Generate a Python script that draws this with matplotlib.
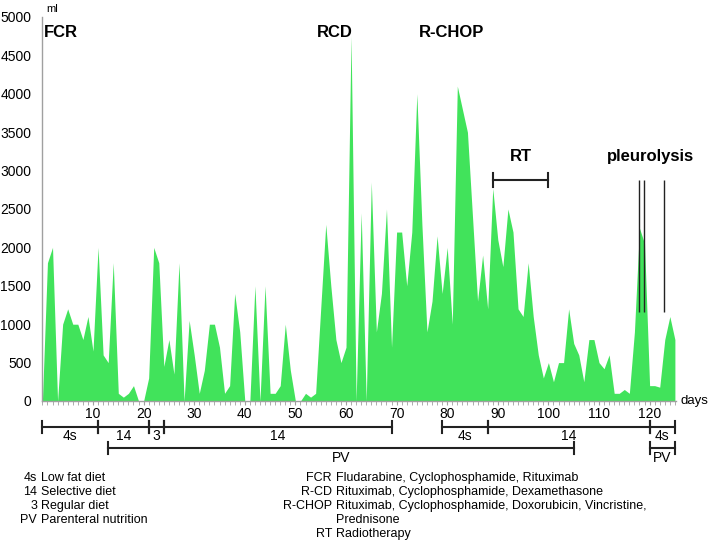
import numpy as np
import matplotlib.pyplot as plt
from matplotlib.transforms import blended_transform_factory

plt.rcParams['font.family'] = ['Liberation Sans', 'DejaVu Sans']

# daily volume (ml), days 0..125
volume = [0, 1800, 2000, 0, 1000, 1200, 1000, 1000, 800, 1100,
          650, 2000, 600, 500, 1800, 100, 50, 100, 200, 0,
          0, 300, 2000, 1800, 450, 800, 350, 1800, 0, 1050,
          600, 100, 400, 1000, 1000, 700, 100, 200, 1400, 900,
          0, 0, 1500, 0, 1500, 100, 100, 200, 1000, 400,
          0, 0, 100, 50, 100, 1200, 2300, 1500, 800, 500,
          700, 4750, 0, 2450, 0, 2850, 900, 1400, 2500, 700,
          2200, 2200, 1500, 2200, 4000, 2300, 900, 1300, 2150, 1400,
          2000, 1000, 4100, 3800, 3500, 2400, 1300, 1900, 1200, 2770,
          2100, 1750, 2500, 2200, 1200, 1100, 1800, 1100, 600, 300,
          500, 250, 500, 500, 1200, 750, 600, 250, 800, 800,
          500, 420, 600, 100, 100, 150, 100, 900, 2250, 2050,
          200, 200, 180, 800, 1100, 800]
days = np.arange(len(volume))

# treatment labels (day, ml)
therapy_names = ['FCR', 'RCD', 'R-CHOP']
therapy_days = [0.2, 57.8, 80.8]
therapy_y = 4800

rt_span = (89, 100)
rt_level = 2880
pleurolysis_days = [117.9, 118.8, 122.9]
pleurolysis_range = (1160, 2880)

# diet brackets: (start, end, label)
diet_row = [(0, 11, '4s'), (11, 21, '14'), (21, 24, '3'), (24, 69, '14'),
            (79, 88, '4s'), (88, 120, '14'), (120, 125, '4s')]
pv_row = [(13, 105, 'PV'), (120, 125, 'PV')]

diet_legend = [('4s', 'Low fat diet'), ('14', 'Selective diet'),
               ('3', 'Regular diet'), ('PV', 'Parenteral nutrition')]
drug_legend = [('FCR', 'Fludarabine, Cyclophosphamide, Rituximab'),
               ('R-CD', 'Rituximab, Cyclophosphamide, Dexamethasone'),
               ('R-CHOP', 'Rituximab, Cyclophosphamide, Doxorubicin, Vincristine,'),
               ('', 'Prednisone'),
               ('RT', 'Radiotherapy')]

W, H = 709, 545
fig = plt.figure(figsize=(W / 100, H / 100), dpi=100)
ax = fig.add_axes([42.4 / W, 144 / H, 5.06 * 125.2 / W, 384 / H])

green = '#41e35b'
ax.fill_between(days, volume, 0, color=green, lw=0)
ax.set_xlim(0, 125.2)
ax.set_ylim(0, 5000)

for s in ['top', 'right']:
    ax.spines[s].set_visible(False)
for s in ['left', 'bottom']:
    ax.spines[s].set_color('#a0a0a0')
    ax.spines[s].set_linewidth(1)

ax.set_yticks(np.arange(0, 5001, 500))
ax.tick_params(axis='y', length=0, pad=8, labelsize=10)
ax.set_xticks(np.arange(10, 121, 10))
ax.set_xticks(np.arange(0, 126, 1), minor=True)
ax.tick_params(axis='x', which='both', length=3, color='#a0a0a0', pad=1, labelsize=10)

ax.annotate('days', xy=(1, 0), xycoords='axes fraction', xytext=(3, 0),
            textcoords='offset points', ha='left', va='center', fontsize=9.5)
ax.annotate('ml', xy=(0, 1), xycoords='axes fraction', xytext=(3, 2),
            textcoords='offset points', ha='left', va='bottom', fontsize=8)

# treatment names
for name, d in zip(therapy_names, therapy_days):
    ax.text(d, therapy_y, name, ha='left' if name == 'FCR' else 'center',
            va='center', fontsize=12, fontweight='bold')

# RT bracket
ax.plot(rt_span, [rt_level, rt_level], color='#222222', lw=1.5)
for d in rt_span:
    ax.plot([d, d], [rt_level - 90, rt_level + 90], color='#222222', lw=1.5)
ax.text(sum(rt_span) / 2, 3190, 'RT', ha='center', va='center',
        fontsize=12, fontweight='bold')

# pleurolysis
ax.vlines(pleurolysis_days, *pleurolysis_range, color='#222222', lw=1)
ax.text(120.2, 3190, 'pleurolysis', ha='center', va='center',
        fontsize=12, fontweight='bold')

# diet / nutrition brackets below the axis (x in days, y in figure fraction)
tr = blended_transform_factory(ax.transData, fig.transFigure)
cap = 6 / H


def bracket(start, end, label, y_line, y_text):
    ax.plot([start, end], [y_line, y_line], color='#222222', lw=1.5,
            transform=tr, clip_on=False)
    for d in (start, end):
        ax.plot([d, d], [y_line - cap, y_line + cap], color='#222222', lw=1.5,
                transform=tr, clip_on=False)
    ax.text((start + end) / 2, y_text, label, transform=tr, ha='center',
            va='center', fontsize=10)


for s, e, lab in diet_row:
    bracket(s, e, lab, 1 - 427 / H, 1 - 436 / H)
for s, e, lab in pv_row:
    bracket(s, e, lab, 1 - 448 / H, 1 - 458 / H)

# legends
row_y = [478, 492, 506, 520, 534]
for (code, desc), y in zip(diet_legend, row_y):
    fig.text(37 / W, 1 - y / H, code, ha='right', va='center', fontsize=9)
    fig.text(41 / W, 1 - y / H, desc, ha='left', va='center', fontsize=9)
for (code, desc), y in zip(drug_legend, row_y):
    fig.text(332 / W, 1 - y / H, code, ha='right', va='center', fontsize=9)
    fig.text(336 / W, 1 - y / H, desc, ha='left', va='center', fontsize=9)

fig.savefig('out.png', dpi=100)
